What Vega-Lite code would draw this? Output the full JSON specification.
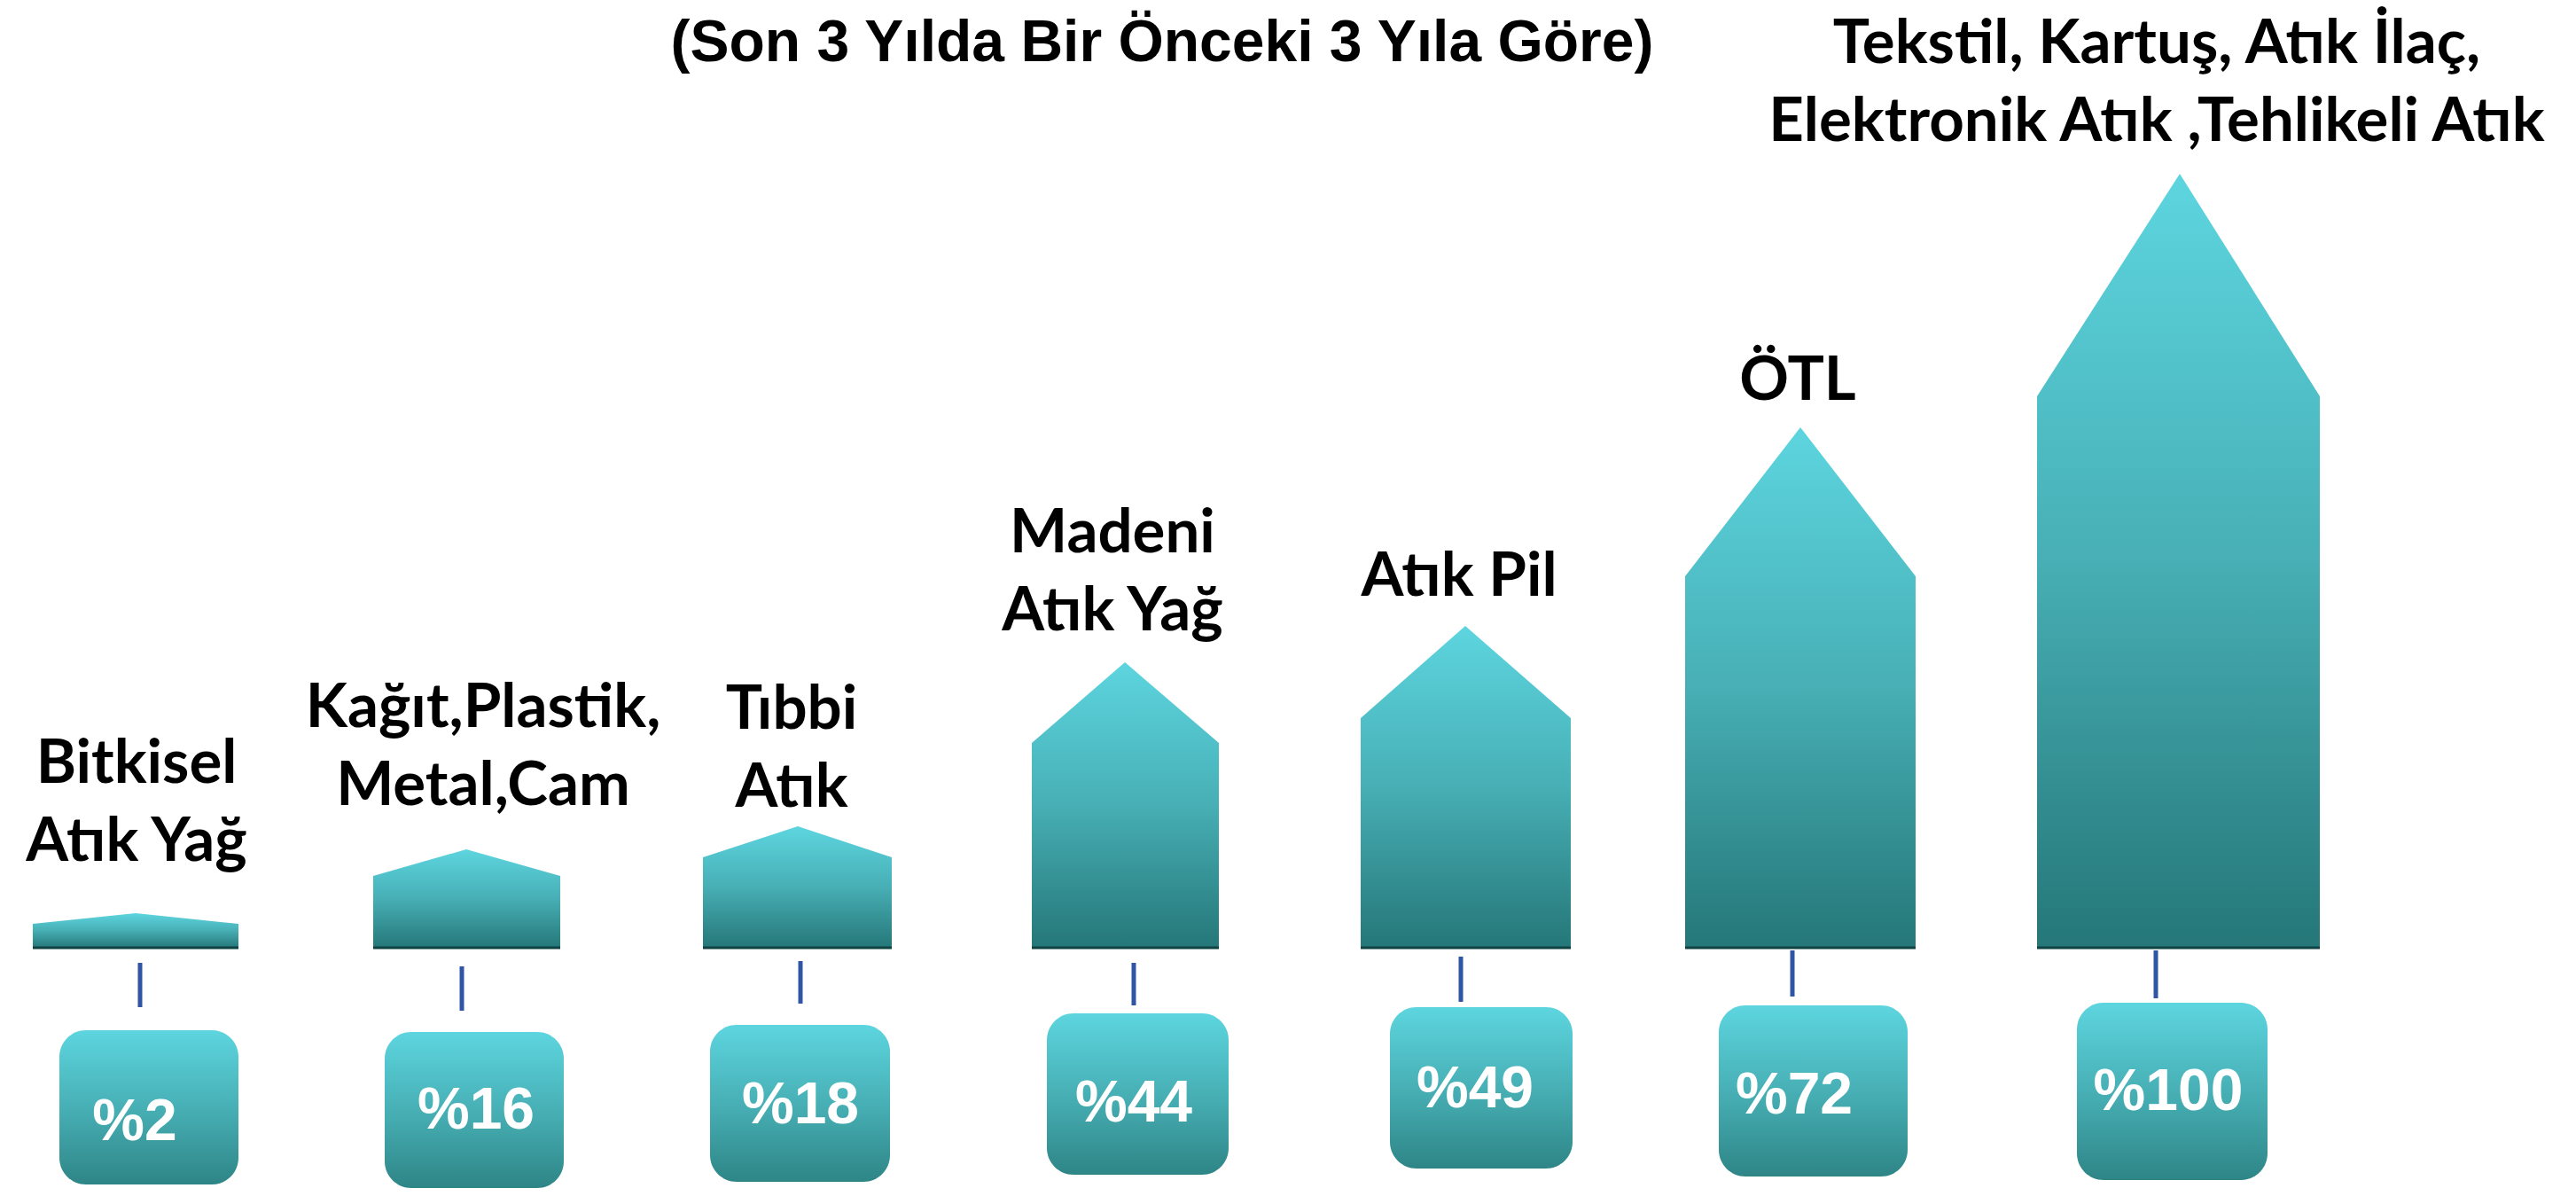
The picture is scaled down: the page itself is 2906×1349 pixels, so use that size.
{
  "$schema": "https://vega.github.io/schema/vega-lite/v6.json",
  "autosize": {"type": "none"},
  "width": 2906,
  "height": 1349,
  "padding": 0,
  "background": "#ffffff",
  "config": {"view": {"stroke": null}},
  "datasets": {
    "shapes": [
      {"cat": "1", "x": 37, "h": 27}, {"cat": "1", "x": 153, "h": 39}, {"cat": "1", "x": 269, "h": 27},
      {"cat": "2", "x": 421, "h": 81}, {"cat": "2", "x": 526, "h": 111}, {"cat": "2", "x": 632, "h": 81},
      {"cat": "3", "x": 793, "h": 102}, {"cat": "3", "x": 900, "h": 137}, {"cat": "3", "x": 1006, "h": 102},
      {"cat": "4", "x": 1164, "h": 231}, {"cat": "4", "x": 1269, "h": 322}, {"cat": "4", "x": 1375, "h": 231},
      {"cat": "5", "x": 1535, "h": 259}, {"cat": "5", "x": 1653, "h": 363}, {"cat": "5", "x": 1772, "h": 259},
      {"cat": "6", "x": 1901, "h": 419}, {"cat": "6", "x": 2031, "h": 587}, {"cat": "6", "x": 2161, "h": 419},
      {"cat": "7", "x": 2298, "h": 622}, {"cat": "7", "x": 2459, "h": 873}, {"cat": "7", "x": 2617, "h": 622}
    ],
    "items": [
      {"cat": "1", "label": ["Bitkisel", "Atık Yağ"], "lx": 154, "ly": 207, "pct": "%2", "bx1": 67, "bx2": 269, "by1": -93, "by2": -267, "px": 152, "py": -197, "tx": 158, "ty1": -17, "ty2": -67},
      {"cat": "2", "label": ["Kağıt,Plastik,", "Metal,Cam"], "lx": 545, "ly": 270, "pct": "%16", "bx1": 434, "bx2": 636, "by1": -95, "by2": -271, "px": 537, "py": -184, "tx": 521, "ty1": -21, "ty2": -71},
      {"cat": "3", "label": ["Tıbbi", "Atık"], "lx": 893, "ly": 268, "pct": "%18", "bx1": 801, "bx2": 1004, "by1": -87, "by2": -264, "px": 903, "py": -178, "tx": 903, "ty1": -15, "ty2": -63},
      {"cat": "4", "label": ["Madeni", "Atık Yağ"], "lx": 1255, "ly": 467, "pct": "%44", "bx1": 1181, "bx2": 1386, "by1": -74, "by2": -256, "px": 1279, "py": -176, "tx": 1279, "ty1": -17, "ty2": -65},
      {"cat": "5", "label": ["Atık Pil"], "lx": 1646, "ly": 418, "pct": "%49", "bx1": 1568, "bx2": 1774, "by1": -67, "by2": -249, "px": 1664, "py": -160, "tx": 1648, "ty1": -10, "ty2": -61},
      {"cat": "6", "label": ["ÖTL"], "lx": 2028, "ly": 639, "pct": "%72", "bx1": 1939, "bx2": 2152, "by1": -65, "by2": -258, "px": 2024, "py": -167, "tx": 2022, "ty1": -3, "ty2": -55},
      {"cat": "7", "label": ["Tekstil, Kartuş, Atık İlaç,", "Elektronik Atık ,Tehlikeli Atık"], "lx": 2433, "ly": 1019, "pct": "%100", "bx1": 2343, "bx2": 2558, "by1": -62, "by2": -262, "px": 2446, "py": -163, "tx": 2432, "ty1": -3, "ty2": -57}
    ],
    "title": [
      {"t": "(Son 3 Yılda Bir Önceki 3 Yıla Göre)", "x": 1311, "y": 1000}
    ]
  },
  "layer": [
    {
      "data": {"name": "shapes"},
      "mark": {
        "type": "area",
        "interpolate": "linear",
        "fill": {"gradient": "linear", "x1": 0, "y1": 0, "x2": 0, "y2": 1,
          "stops": [{"offset": 0, "color": "#5DD5DF"}, {"offset": 0.5, "color": "#47AFB5"}, {"offset": 1, "color": "#257778"}]}
      },
      "encoding": {
        "x": {"field": "x", "type": "quantitative", "scale": {"domain": [0, 2906], "nice": false, "zero": false}, "axis": null},
        "y": {"field": "h", "type": "quantitative", "stack": null, "scale": {"domain": [-280, 1069], "nice": false, "zero": false}, "axis": null},
        "y2": {"datum": 0},
        "detail": {"field": "cat"}
      }
    },
    {
      "data": {"name": "shapes"},
      "transform": [{"aggregate": [{"op": "min", "field": "x", "as": "x0"}, {"op": "max", "field": "x", "as": "x1"}], "groupby": ["cat"]}],
      "mark": {"type": "rule", "color": "#0E4243", "strokeWidth": 3},
      "encoding": {
        "x": {"field": "x0", "type": "quantitative", "axis": null},
        "x2": {"field": "x1"},
        "y": {"datum": 0, "type": "quantitative", "axis": null}
      }
    },
    {
      "data": {"name": "items"},
      "mark": {"type": "rule", "color": "#2F55A4", "strokeWidth": 5},
      "encoding": {
        "x": {"field": "tx", "type": "quantitative", "axis": null},
        "y": {"field": "ty1", "type": "quantitative", "axis": null},
        "y2": {"field": "ty2"}
      }
    },
    {
      "data": {"name": "items"},
      "mark": {
        "type": "bar",
        "cornerRadius": 30,
        "fill": {"gradient": "linear", "x1": 0, "y1": 0, "x2": 0, "y2": 1,
          "stops": [{"offset": 0, "color": "#5DD5DF"}, {"offset": 0.55, "color": "#45ACB1"}, {"offset": 1, "color": "#2E8586"}]}
      },
      "encoding": {
        "x": {"field": "bx1", "type": "quantitative", "axis": null},
        "x2": {"field": "bx2"},
        "y": {"field": "by1", "type": "quantitative", "axis": null},
        "y2": {"field": "by2"}
      }
    },
    {
      "data": {"name": "items"},
      "mark": {"type": "text", "font": "Liberation Sans", "fontWeight": "bold", "fontSize": 66, "color": "#ffffff", "align": "center", "baseline": "middle"},
      "encoding": {
        "x": {"field": "px", "type": "quantitative", "axis": null},
        "y": {"field": "py", "type": "quantitative", "axis": null},
        "text": {"field": "pct"}
      }
    },
    {
      "data": {"name": "items"},
      "mark": {"type": "text", "font": "Lato", "fontWeight": "bold", "fontSize": 69, "lineHeight": 88, "color": "#000000", "align": "center", "baseline": "middle"},
      "encoding": {
        "x": {"field": "lx", "type": "quantitative", "axis": null},
        "y": {"field": "ly", "type": "quantitative", "axis": null},
        "text": {"field": "label"}
      }
    },
    {
      "data": {"name": "title"},
      "mark": {"type": "text", "font": "Liberation Sans", "fontWeight": "bold", "fontSize": 66, "color": "#000000", "align": "center", "baseline": "alphabetic"},
      "encoding": {
        "x": {"field": "x", "type": "quantitative", "axis": null},
        "y": {"field": "y", "type": "quantitative", "axis": null},
        "text": {"field": "t"}
      }
    }
  ]
}
